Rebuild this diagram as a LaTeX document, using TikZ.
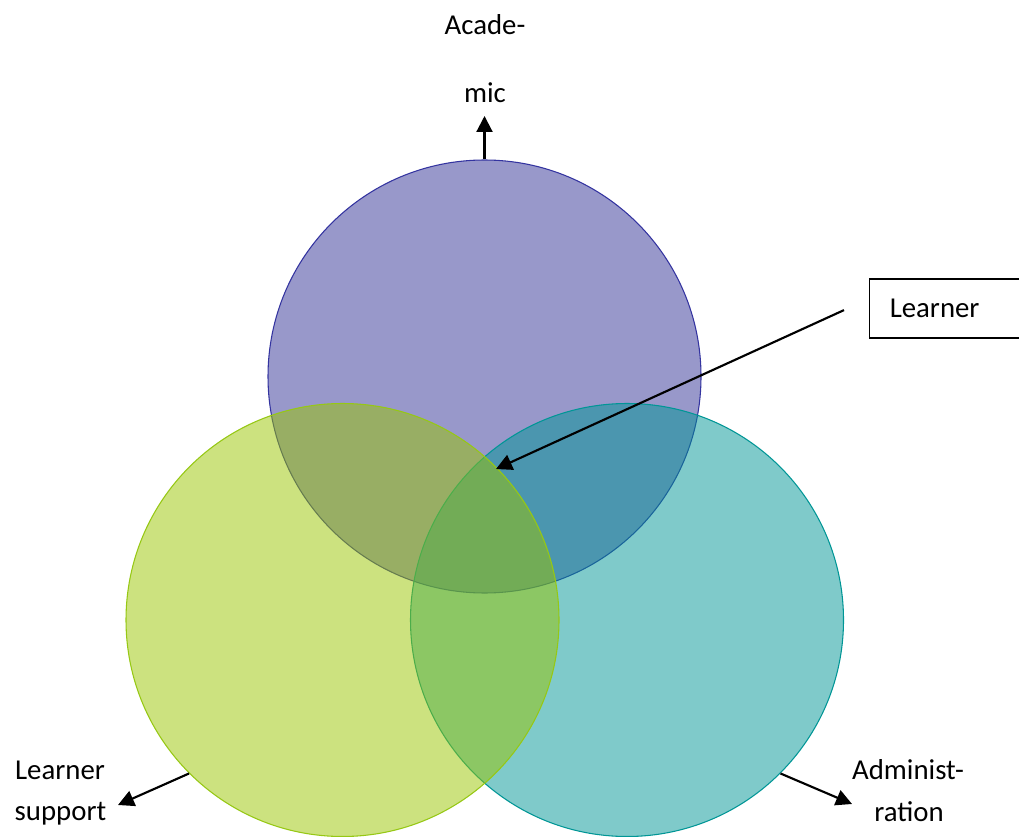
\documentclass[tikz,border=0pt]{standalone}
\usepackage{fontspec}
\setmainfont{Carlito}
\usetikzlibrary{arrows.meta}
\definecolor{cpurple}{RGB}{49,49,149}
\definecolor{cpurpleline}{RGB}{52,52,160}
\definecolor{cgreen}{RGB}{153,197,0}
\definecolor{cgreenline}{RGB}{150,200,20}
\definecolor{cteal}{RGB}{0,149,149}
\definecolor{ctealline}{RGB}{0,150,150}
\begin{document}
\begin{tikzpicture}[x=0.75pt,y=-0.75pt,
  venn/.style={circle, inner sep=0pt, minimum size=324.75pt, fill opacity=0.5, line width=0.8pt},
  lbl/.style={font=\fontsize{21.6pt}{26pt}\selectfont, inner sep=0pt},
  arr/.style={line width=1.6pt, -{Triangle[length=12pt,width=12pt]}}]
\useasboundingbox (0,0) rectangle (1019,837);
\clip (0,0) rectangle (1019,837);
% circles
\node[venn, fill=cpurple, draw=cpurpleline] (acad) at (484.5,376.5) {};
\node[venn, fill=cteal, draw=ctealline] (admin) at (627,620) {};
\node[venn, fill=cgreen, draw=cgreenline] (support) at (342.5,620) {};
% labels
\node[lbl, anchor=base] (acadA) at (485,35) {Acade-};
\node[lbl, anchor=base] (acadB) at (485,103) {mic};
\node[lbl, anchor=base] (supA) at (60,779) {Learner};
\node[lbl, anchor=base] (supB) at (60.5,820) {support};
\node[lbl, anchor=base] (admA) at (908,779) {Administ-};
\node[lbl, anchor=base] (admB) at (909,821) {ration};
\node[lbl, draw, line width=1.1pt, anchor=west, minimum height=44.25pt,
      text width=120pt, align=left, inner xsep=15pt] (learner) at (869,308.5) {Learner};
% arrows
\coordinate (acadTip) at (484.5,116);
\coordinate (centerTip) at (496,469);
\coordinate (supTip) at (118,805);
\coordinate (admTip) at (852,804);
\draw[arr] (acad.north) -- (acadTip);
\draw[arr] ([xshift=-18.75pt,yshift=-1.2pt]learner.west) -- (centerTip);
\draw[arr] (support.225) -- (supTip);
\draw[arr] (admin.-45) -- (admTip);
\end{tikzpicture}
\end{document}
